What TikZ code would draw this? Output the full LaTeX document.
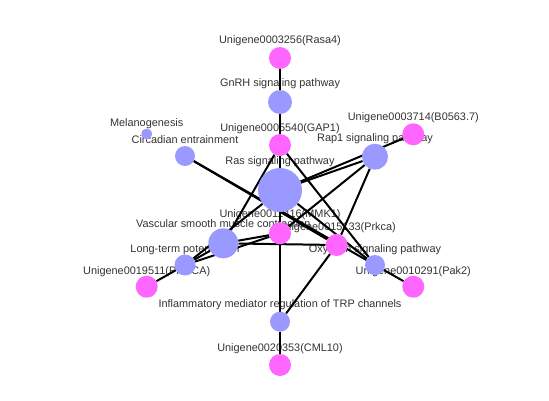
\documentclass[tikz,border=0pt]{standalone}
\usepackage{fontspec}
\setmainfont{Liberation Sans}
\usepackage{xcolor}
\usetikzlibrary{positioning}
\definecolor{pathBlue}{HTML}{9999FF}
\definecolor{genePink}{HTML}{FF66FF}
\definecolor{ink}{HTML}{333333}
\pgfdeclarelayer{labels}
\pgfdeclarelayer{edges}
\pgfsetlayers{labels,edges,main}

\begin{document}
\begin{tikzpicture}[x=1pt, y=-1pt,
  every node/.style={inner sep=0pt},
  pathway/.style={circle, fill=pathBlue, minimum size=#1},
  pathway/.default=20pt,
  gene/.style={circle, fill=genePink, minimum size=22pt},
  tag/.style={font=\fontsize{10.9}{13}\selectfont, text=ink},
  link/.style={draw=black, line width=2pt}
]
\useasboundingbox (0,0) rectangle (549,400);

% --- Pathway and gene nodes ---
\node[gene]           (rasa4)  at (280,58)      {};
\node[pathway=24pt]   (gnrh)   at (280,102)     {};
\node[gene]           (gap1)   at (280,145)     {};
\node[pathway=11pt]   (melano) at (146.7,134)   {};
\node[pathway]        (circ)   at (185,156)     {};
\node[gene]           (b0563)  at (413.3,134.3) {};
\node[pathway=26pt]   (rap1)   at (375,156.7)   {};
\node[pathway=44pt]   (ras)    at (280,190)     {};
\node[gene]           (mmk1)   at (280,233.3)   {};
\node[pathway=30pt]   (vsmc)   at (223.3,243.3) {};
\node[gene]           (prkca)  at (336.7,245)   {};
\node[pathway=21pt]   (ltp)    at (185,265)     {};
\node[pathway]        (oxy)    at (375,265)     {};
\node[gene]           (prkcaB) at (146.7,286.7) {};
\node[gene]           (pak2)   at (413.3,286.7) {};
\node[pathway]        (trp)    at (280,321.7)   {};
\node[gene]           (cml10)  at (280,365)     {};

% --- Labels (under the edges) ---
\begin{pgfonlayer}{labels}
\node[tag] (rasa4-t)  at (280,40.7)    {Unigene0003256(Rasa4)};
\node[tag] (gnrh-t)   at (280,83.3)    {GnRH signaling pathway};
\node[tag] (gap1-t)   at (280,128.3)   {Unigene0005540(GAP1)};
\node[tag] (melano-t) at (146.7,123.3) {Melanogenesis};
\node[tag] (circ-t)   at (185,140)     {Circadian entrainment};
\node[tag] (b0563-t)  at (413.3,117.7) {Unigene0003714(B0563.7)};
\node[tag] (rap1-t)   at (375,138.3)   {Rap1 signaling pathway};
\node[tag] (ras-t)    at (280,161.7)   {Ras signaling pathway};
\node[tag] (mmk1-t)   at (280,215)     {Unigene0011416(MMK1)};
\node[tag] (vsmc-t)   at (223.3,223.3) {Vascular smooth muscle contraction};
\node[tag] (prkca-t)  at (336.7,227.3) {Unigene0015133(Prkca)};
\node[tag] (ltp-t)    at (185,250)     {Long-term potentiation};
\node[tag] (oxy-t)    at (375,250)     {Oxytocin signaling pathway};
\node[tag] (prkcaB-t) at (146.7,271.7) {Unigene0019511(PRKCA)};
\node[tag] (pak2-t)   at (413.3,271.7) {Unigene0010291(Pak2)};
\node[tag] (trp-t)    at (280,305)     {Inflammatory mediator regulation of TRP channels};
\node[tag] (cml10-t)  at (280,348.3)   {Unigene0020353(CML10)};
\end{pgfonlayer}

% --- Edges ---
\begin{pgfonlayer}{edges}
\draw[link] (rasa4) -- (gnrh);
\draw[link] (gnrh) -- (gap1);
\draw[link] (gap1) -- (ras);
\draw[link] (ras) -- (mmk1);
\draw[link] (mmk1) -- (trp);
\draw[link] (trp) -- (cml10);
\draw[link] (trp) -- (prkca);
\draw[link] (gap1) -- (vsmc);
\draw[link] (gap1) -- (oxy);
\draw[link] (circ) -- (prkca);
\draw[link] (circ) -- (oxy);
\draw[link] (ras) -- (rap1);
\draw[link] (ras) -- (b0563);
\draw[link] (rap1) -- (mmk1);
\draw[link] (rap1) -- (prkca);
\draw[link] (ras) -- (oxy);
\draw[link] (oxy) -- (pak2);
\draw[link] (ras) -- (ltp);
\draw[link] (ltp) -- (vsmc);
\draw[link] (ltp) -- (mmk1);
\draw[link] (prkcaB) -- (ltp);
\draw[link] (vsmc) -- (mmk1);
\draw[link] (vsmc) -- (prkca);
\end{pgfonlayer}

\end{tikzpicture}
\end{document}
